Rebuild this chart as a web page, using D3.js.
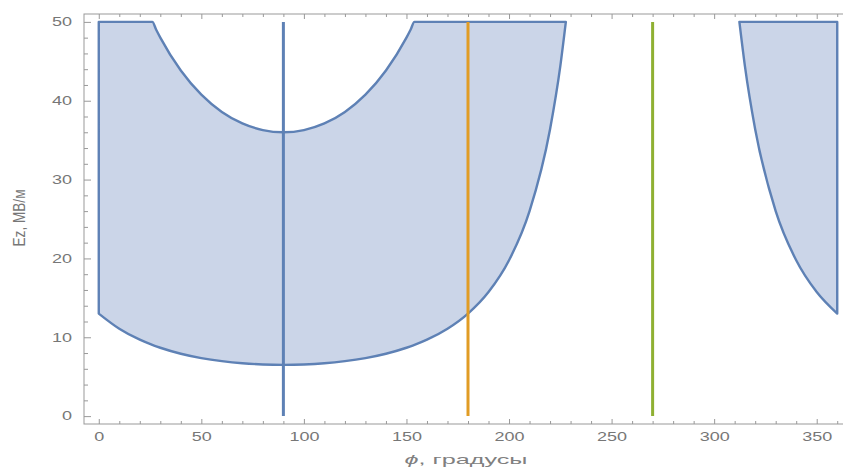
<!DOCTYPE html>
<html>
<head>
<meta charset="utf-8">
<script src="https://cdn.jsdelivr.net/npm/d3@7"></script>
<style>
  body { margin: 0; background: #fff; }
  svg { display: block; font-family: "Liberation Sans", Arial, sans-serif; }
  .tick line { stroke: #999; }
  .tick text { fill: #777; font-size: 12px; transform-box: fill-box; }
  .xax .tick text { transform-origin: center; transform: scaleX(1.5); }
  .yax .tick text { transform-origin: right center; transform: scaleX(1.5); }
</style>
</head>
<body>
<svg width="843" height="468"></svg>
<script>
// phase angle, degrees (null row splits the two filled pieces)
const phi   = [0, 10, 20, 26.1, 28, 30, 40, 50, 60, 70, 80, 90, 100, 110, 120, 130, 140, 150, 152, 153.9,
               160, 170, 180, 190, 200, 210, 220, 225, 227.7, 270, 312.3, 315, 320, 330, 340, 350, 360];
// lower edge of the band, MV/m
const lower = [13, 11.08, 9.69, 9.03, 8.85, 8.67, 7.91, 7.36, 6.97, 6.70, 6.55, 6.5, 6.55, 6.70, 6.97, 7.36, 7.91, 8.67, 8.85, 9.03,
               9.69, 11.08, 13, 15.73, 19.76, 26, 36.39, 44.39, 50, null, 50, 44.39, 36.39, 26, 19.76, 15.73, 13];
// upper edge of the band (clipped at 50), MV/m
const upper = [50, 50, 50, 50, 49.0, 48, 43.83, 40.77, 38.58, 37.12, 36.28, 36, 36.28, 37.12, 38.58, 40.77, 43.83, 48, 49.0, 50,
               50, 50, 50, 50, 50, 50, 50, 50, 50, null, 50, 50, 50, 50, 50, 50, 50];

const markers = [90, 180, 270];
const markerColors = ['#5e81b5', '#e19c24', '#8fb032'];
const markerTop = 50;

const xTicks = [0, 50, 100, 150, 200, 250, 300, 350];
const yTicks = [0, 10, 20, 30, 40, 50];

const svg = d3.select('svg');

const x = d3.scaleLinear().domain([-7.2, 367.2]).range([84, 852]);
const y = d3.scaleLinear().domain([-1, 51]).range([424, 14]);

const band = phi.map((p, i) => ({ p, lo: lower[i], hi: upper[i] }));

const area = d3.area()
  .defined(d => d.lo != null)
  .x(d => x(d.p))
  .y0(d => y(d.lo))
  .y1(d => y(d.hi))
  .curve(d3.curveMonotoneX);

svg.append('path')
  .datum(band)
  .attr('d', area)
  .attr('fill', '#cbd5e8')
  .attr('stroke', '#5e81b5')
  .attr('stroke-width', 2.4)
  .attr('stroke-linejoin', 'round');

svg.selectAll('.marker')
  .data(markers)
  .enter()
  .append('line')
  .attr('class', 'marker')
  .attr('x1', d => x(d))
  .attr('x2', d => x(d))
  .attr('y1', y(0))
  .attr('y2', y(markerTop))
  .attr('stroke', (d, i) => markerColors[i])
  .attr('stroke-width', 3);

// frame
svg.append('rect')
  .attr('x', x.range()[0])
  .attr('y', y.range()[1])
  .attr('width', x.range()[1] - x.range()[0])
  .attr('height', y.range()[0] - y.range()[1])
  .attr('fill', 'none')
  .attr('stroke', '#999');

const xMinor = d3.range(-0, 371, 10).filter(v => v % 50 !== 0);
const yMinor = d3.range(2, 50, 2).filter(v => v % 10 !== 0);

const yBottom = y.range()[0], yTop = y.range()[1], xLeft = x.range()[0];

svg.append('g').attr('class', 'xax')
  .attr('transform', `translate(0,${yBottom})`)
  .call(d3.axisBottom(x).tickValues(xTicks).tickSize(-5).tickPadding(8))
  .call(g => g.select('.domain').remove());
svg.append('g')
  .attr('transform', `translate(0,${yBottom})`)
  .call(d3.axisBottom(x).tickValues(xMinor).tickSize(-3).tickFormat(''))
  .call(g => g.select('.domain').remove());
svg.append('g')
  .attr('transform', `translate(0,${yTop})`)
  .call(d3.axisTop(x).tickValues(xTicks).tickSize(-5).tickFormat(''))
  .call(g => g.select('.domain').remove());
svg.append('g')
  .attr('transform', `translate(0,${yTop})`)
  .call(d3.axisTop(x).tickValues(xMinor).tickSize(-3).tickFormat(''))
  .call(g => g.select('.domain').remove());

svg.append('g').attr('class', 'yax')
  .attr('transform', `translate(${xLeft},0)`)
  .call(d3.axisLeft(y).tickValues(yTicks).tickSize(-7).tickPadding(12))
  .call(g => g.select('.domain').remove());
svg.append('g')
  .attr('transform', `translate(${xLeft},0)`)
  .call(d3.axisLeft(y).tickValues(yMinor).tickSize(-4).tickFormat(''))
  .call(g => g.select('.domain').remove());

svg.selectAll('.tick text').attr('font-family', null).attr('font-size', null);
svg.selectAll('g').attr('font-family', null).attr('font-size', null);

// axis titles
const xt = svg.append('text')
  .attr('x', 466)
  .attr('y', 464)
  .attr('text-anchor', 'middle')
  .attr('fill', '#808080')
  .attr('font-size', 13.5)
  .attr('textLength', 123)
  .attr('lengthAdjust', 'spacingAndGlyphs');
xt.append('tspan').attr('font-style', 'italic').text('ϕ');
xt.append('tspan').text(', градусы');

svg.append('text')
  .attr('transform', 'translate(25,218) rotate(-90) scale(1,1.4)')
  .attr('text-anchor', 'middle')
  .attr('fill', '#777')
  .attr('font-size', 12)
  .attr('textLength', 57)
  .attr('lengthAdjust', 'spacingAndGlyphs')
  .text('Ez, МВ/м');
</script>
</body>
</html>
